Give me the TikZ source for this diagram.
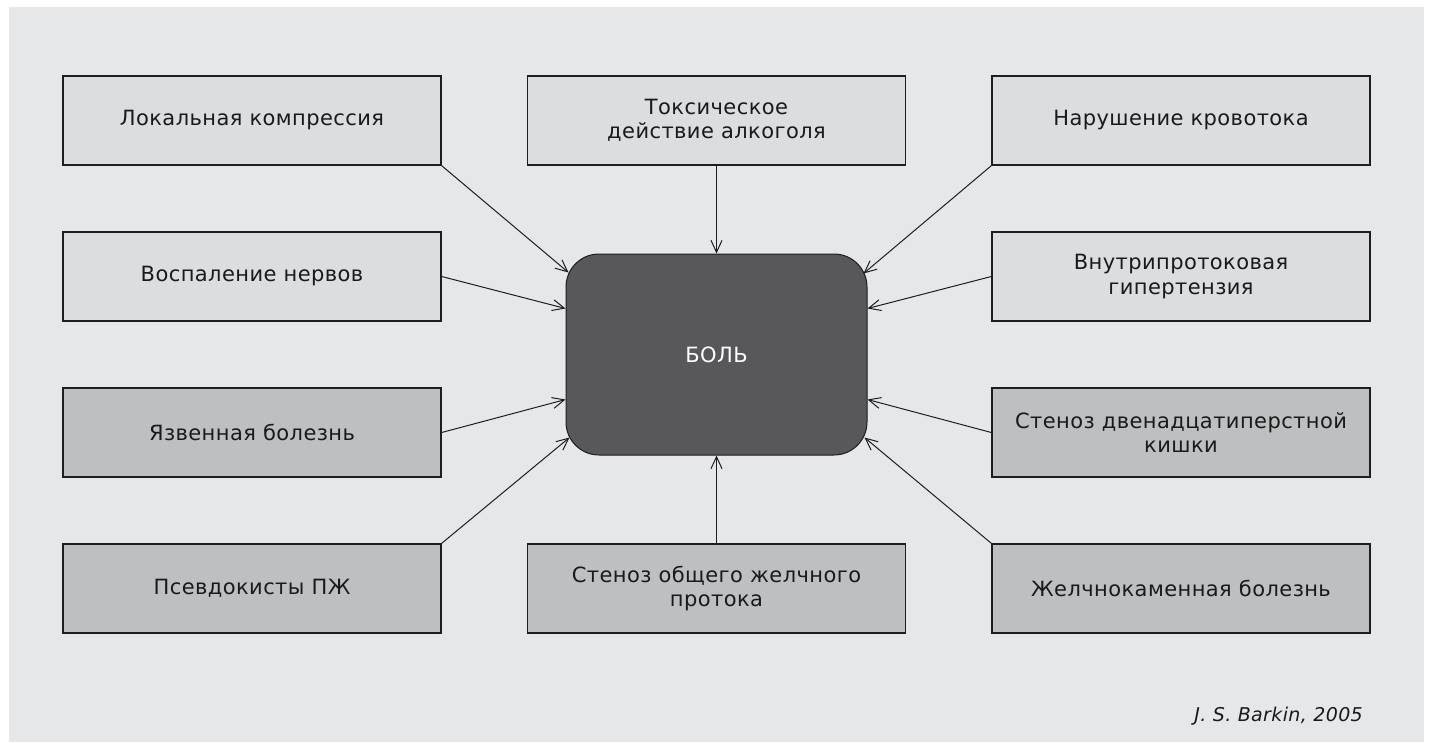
\documentclass[tikz,border=0pt]{standalone}
\usepackage{fontspec}
\setmainfont{DejaVu Sans}[LetterSpace=2]
\usetikzlibrary{arrows.meta,calc}
\definecolor{panel}{HTML}{E6E7E9}
\definecolor{lightbox}{HTML}{DCDDDF}
\definecolor{darkbox}{HTML}{BEBFC1}
\definecolor{painfill}{HTML}{58585A}
\definecolor{edge}{HTML}{1E1E1E}
\definecolor{txt}{HTML}{1A1A1A}
\tikzset{
  cause/.style={draw=edge, line width=1.4pt, minimum width=378pt, minimum height=89pt,
    inner sep=0pt, align=center, text=txt, font=\fontsize{21}{24.5}\selectfont},
  lightcause/.style={cause, fill=lightbox},
  darkcause/.style={cause, fill=darkbox},
  painbox/.style={draw=edge, line width=1pt, fill=painfill, rounded corners=33pt,
    minimum width=301pt, minimum height=201pt, text=white, font=\fontsize{21}{24}\selectfont},
  arr/.style={draw=edge, line width=1pt, -{Straight Barb[length=12pt,width=11pt,line width=1pt]}}
}
\begin{document}
\begin{tikzpicture}[x=1pt,y=-1pt]
\useasboundingbox (0,0) rectangle (1429,742);
\fill[white] (0,0) rectangle (1429,742);
\fill[panel] (9,7) rectangle (1424,742);

\node[painbox] (pain) at (716.5,354.5) {БОЛЬ};

\node[lightcause] (l1) at (252,120.5) {Локальная компрессия};
\node[lightcause] (l2) at (252,276.5) {Воспаление нервов};
\node[darkcause]  (l3) at (252,432.5) {Язвенная болезнь};
\node[darkcause]  (l4) at (252,588.5) {Псевдокисты ПЖ};

\node[lightcause] (m1) at (716.5,120.5) {Токсическое\\действие алкоголя};
\node[darkcause]  (m2) at (716.5,588.5) {Стеноз общего желчного\\протока};

\node[lightcause] (r1) at (1181,120.5) {Нарушение кровотока};
\node[lightcause] (r2) at (1181,276.5) {Внутрипротоковая\\гипертензия};
\node[darkcause]  (r3) at (1181,432.5) {Стеноз двенадцатиперстной\\кишки};
\node[darkcause]  (r4) at (1181,588.5) {Желчнокаменная болезнь};

\draw[arr] (l1.south east) -- ($(pain.north west)+(3,19)$);
\draw[arr] (l2.east) -- ($(pain.north west)+(0,55)$);
\draw[arr] (l3.east) -- ($(pain.north west)+(0,146)$);
\draw[arr] (l4.north east) -- ($(pain.south west)+(4,-18)$);

\draw[arr] (r1.south west) -- ($(pain.north east)+(-4,20)$);
\draw[arr] (r2.west) -- ($(pain.north east)+(0,55)$);
\draw[arr] (r3.west) -- ($(pain.north east)+(0,146)$);
\draw[arr] (r4.north west) -- ($(pain.south east)+(-3,-18)$);

\draw[arr] (m1.south) -- (pain.north);
\draw[arr] (m2.north) -- (pain.south);

\node[anchor=base east, inner sep=0pt, text=txt, font=\fontsize{19}{22}\selectfont\itshape] (cite) at (1363,721) {J. S. Barkin, 2005};
\end{tikzpicture}
\end{document}
